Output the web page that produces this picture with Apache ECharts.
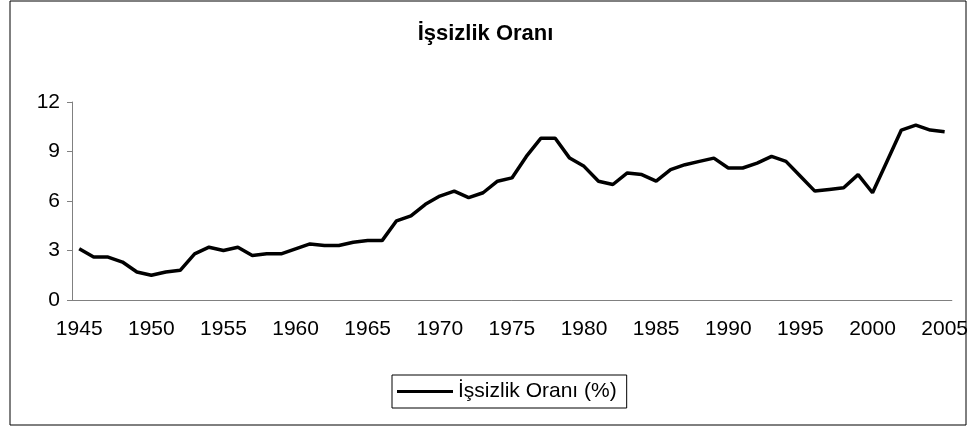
<!DOCTYPE html>
<html>
<head>
<meta charset="utf-8">
<script src="https://cdn.jsdelivr.net/npm/echarts@6/dist/echarts.min.js"></script>
<style>
  html, body { margin: 0; padding: 0; background: #fff; }
  #chart { width: 971px; height: 428px; }
</style>
</head>
<body>
<div id="chart"></div>
<script>
// yıllar ve işsizlik oranı (%)
var years = [];
for (var y = 1945; y <= 2005; y++) years.push(String(y));

var rates = [3.1, 2.6, 2.6, 2.3, 1.7, 1.5, 1.7, 1.8, 2.8, 3.2,
             3.0, 3.2, 2.7, 2.8, 2.8, 3.1, 3.4, 3.3, 3.3, 3.5,
             3.6, 3.6, 4.8, 5.1, 5.8, 6.3, 6.6, 6.2, 6.5, 7.2,
             7.4, 8.7, 9.8, 9.8, 8.6, 8.1, 7.2, 7.0, 7.7, 7.6,
             7.2, 7.9, 8.2, 8.4, 8.6, 8.0, 8.0, 8.3, 8.7, 8.4,
             7.5, 6.6, 6.7, 6.8, 7.6, 6.5, 8.4, 10.3, 10.6, 10.3,
             10.2];

var yTicks = [0, 3, 6, 9, 12];

var font = 'Liberation Sans';
var myChart = echarts.init(document.getElementById('chart'));

var option = {
  backgroundColor: '#fff',
  animation: false,
  title: {
    text: 'İşsizlik Oranı',
    left: 'center',
    top: 18,
    textStyle: { fontFamily: font, fontSize: 22, fontWeight: 'bold', color: '#000' }
  },
  graphic: [{
    type: 'rect',
    shape: { x: 10, y: 1, width: 956, height: 424 },
    style: { fill: null, stroke: '#000', lineWidth: 1 }
  }],
  legend: {
    left: 392,
    top: 375,
    padding: [6, 10, 6, 5],
    borderColor: '#000',
    borderWidth: 1,
    icon: 'rect',
    itemWidth: 56,
    itemHeight: 3,
    itemGap: 5,
    textStyle: { fontFamily: font, fontSize: 21, color: '#000' },
    data: ['İşsizlik Oranı (%)']
  },
  grid: { left: 72, right: 19, top: 102, bottom: 128, containLabel: false },
  xAxis: {
    type: 'category',
    data: years,
    boundaryGap: true,
    axisLine: { lineStyle: { color: '#808080', width: 1 } },
    axisTick: { interval: 0, length: 5, lineStyle: { color: '#808080' } },
    axisLabel: {
      interval: 4,
      margin: 19,
      fontFamily: font,
      fontSize: 21,
      color: '#000'
    },
    splitLine: { show: false }
  },
  yAxis: {
    type: 'value',
    min: yTicks[0],
    max: yTicks[yTicks.length - 1],
    interval: 3,
    axisLine: { show: true, lineStyle: { color: '#808080', width: 1 } },
    axisTick: { show: true, length: 5, lineStyle: { color: '#808080' } },
    axisLabel: { margin: 12, fontFamily: font, fontSize: 21, color: '#000' },
    splitLine: { show: false }
  },
  series: [{
    name: 'İşsizlik Oranı (%)',
    type: 'line',
    data: rates,
    showSymbol: false,
    symbol: 'none',
    lineStyle: { color: '#000', width: 3.5 },
    itemStyle: { color: '#000' }
  }]
};

myChart.setOption(option);
</script>
</body>
</html>
